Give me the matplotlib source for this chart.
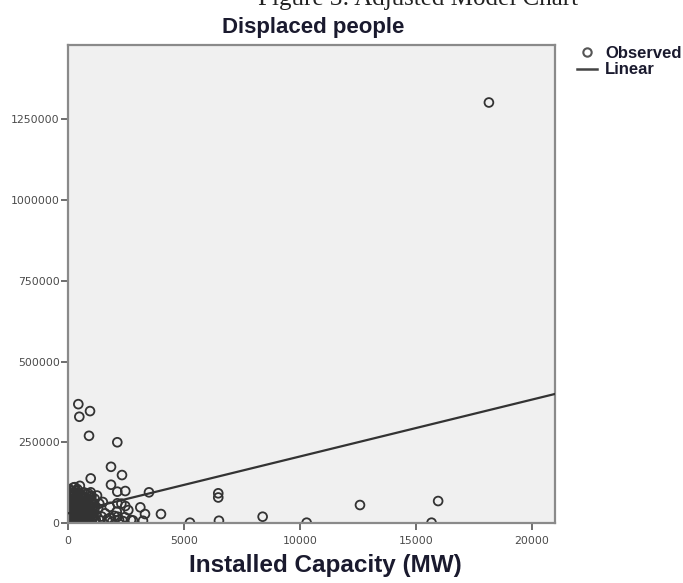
import matplotlib
matplotlib.use("Agg")
import matplotlib.pyplot as plt
from matplotlib.lines import Line2D

# installed capacity (MW) vs displaced people
capacity = [
    20, 40, 60, 80, 100, 120, 150, 180, 200, 230, 260, 290, 300, 330, 360,
    400, 420, 450, 480, 500, 530, 560, 600, 640, 680, 700, 750, 800, 850,
    900, 950, 1000, 1050, 1100, 1150, 1200, 1300, 1400, 1500, 1600, 1700,
    1800, 1900, 2000, 2100, 2200, 2300, 2450, 2600, 2800,
    10, 30, 50, 70, 90, 130, 160, 210, 240, 270, 310, 350, 380, 440, 470,
    510, 550, 620, 660, 720, 780, 820, 880, 930, 980, 1020, 1080, 1250,
    1350, 1450, 15, 45, 75, 105, 140, 190, 220, 320, 370, 430, 490, 580,
    720, 860, 1150,
    25, 55, 85, 115, 145, 175, 205, 235, 265, 295, 325, 355, 385, 415, 445,
    475, 505, 535, 565, 595, 625, 655, 685, 715, 745, 775, 805, 835, 865,
    895, 925, 955, 985, 1015, 1045, 1075, 1105, 1135, 1165, 1195,
    444, 487, 948, 905, 2125, 1853, 2327, 978, 1853, 2125, 2470, 3491,
    2470, 2125, 3117, 3319, 4008, 2715, 3232, 2140, 1810, 2370, 6478, 6478,
    5258, 6508, 8392, 10290, 15676, 12590, 15960, 18150,
]
displaced = [
    5000, 12000, 2000, 25000, 8000, 40000, 15000, 60000, 3000, 30000, 90000,
    111000, 50000, 20000, 75000, 105000, 10000, 45000, 65000, 1000, 85000,
    30000, 55000, 12000, 95000, 40000, 70000, 20000, 5000, 60000, 80000,
    35000, 15000, 55000, 75000, 25000, 45000, 8000, 65000, 30000, 12000,
    50000, 4000, 22000, 35000, 10000, 60000, 18000, 40000, 8000,
    60000, 90000, 105000, 45000, 75000, 100000, 85000, 70000, 110000, 20000,
    35000, 100000, 8000, 80000, 25000, 115000, 50000, 75000, 35000, 15000,
    90000, 45000, 28000, 10000, 95000, 70000, 30000, 85000, 60000, 20000,
    30000, 70000, 15000, 55000, 30000, 45000, 95000, 65000, 40000, 60000,
    3000, 10000, 60000, 75000, 3000,
    18000, 50000, 82000, 6000, 68000, 38000, 12000, 88000, 55000, 4000,
    78000, 26000, 62000, 92000, 33000, 9000, 72000, 42000, 20000, 86000,
    5000, 58000, 26000, 80000, 48000, 10000, 66000, 38000, 92000, 16000,
    52000, 28000, 6000, 84000, 44000, 62000, 18000, 36000, 50000, 10000,
    368000, 329000, 346500, 270000, 250000, 174000, 148500, 138000, 118500,
    97000, 99000, 95000, 52600, 61000, 48500, 27800, 27800, 9300, 7000,
    19500, 15500, 6000, 92000, 79000, 1000, 7000, 19500, 1000, 1000, 55700,
    68000, 1302000,
]

# linear fit as drawn in the reference
fit_intercept = 30000
fit_slope = 17.6

x_ticks = [0, 5000, 10000, 15000, 20000]
y_ticks = [0, 250000, 500000, 750000, 1000000, 1250000]
x_max = 21000
y_max = 1480000

fig = plt.figure(figsize=(6.83, 5.83), dpi=100)
ax = fig.add_axes([0.0996, 0.1029, 0.7130, 0.8199])
ax.set_facecolor("#f0f0f0")

ax.scatter(capacity, displaced, s=40, facecolors="none",
           edgecolors="#333333", linewidths=1.3, zorder=2)
ax.plot([0, x_max], [fit_intercept, fit_intercept + fit_slope * x_max],
        color="#333333", linewidth=1.6, zorder=3)

ax.set_xlim(0, x_max)
ax.set_ylim(0, y_max)
ax.set_xticks(x_ticks)
ax.set_xticklabels([str(t) for t in x_ticks])
ax.set_yticks(y_ticks)
ax.set_yticklabels([str(t) for t in y_ticks])
ax.tick_params(direction="out", length=5, width=1.2, color="#555555",
               labelsize=7.8, labelcolor="#4a4a4a", pad=1)
ax.tick_params(axis="x", pad=4)

for side in ["left", "bottom", "right", "top"]:
    ax.spines[side].set_color("#8a8a8a")
    ax.spines[side].set_linewidth(1.6)

fig.text(0.476, 0.03, "Installed Capacity (MW)", ha="center",
         va="center", fontsize=17.5, fontweight="bold",
         family="Liberation Sans", color="#1a1a2e")
fig.text(0.459, 0.952, "Displaced people", ha="center", va="center",
         fontsize=16, fontweight="bold", family="Liberation Sans",
         color="#1a1a2e")
fig.text(0.612, 0.991, "Figure 3: Adjusted Model Chart", ha="center",
         va="baseline", fontsize=18, family="Liberation Serif",
         color="#222222")

handles = [
    Line2D([], [], marker="o", linestyle="none", markerfacecolor="none",
           markeredgecolor="#555555", markersize=6, markeredgewidth=1.5),
    Line2D([], [], color="#444444", linewidth=1.8),
]
leg = fig.legend(handles, ["Observed", "Linear"], loc="upper left",
                 bbox_to_anchor=(0.835, 0.933), frameon=False,
                 prop={"family": "Liberation Sans", "weight": "bold",
                       "size": 12},
                 handlelength=1.2, handletextpad=0.5, labelspacing=0.1,
                 borderaxespad=0)
for t in leg.get_texts():
    t.set_color("#1a1a2e")

fig.savefig("out.png", dpi=100)
